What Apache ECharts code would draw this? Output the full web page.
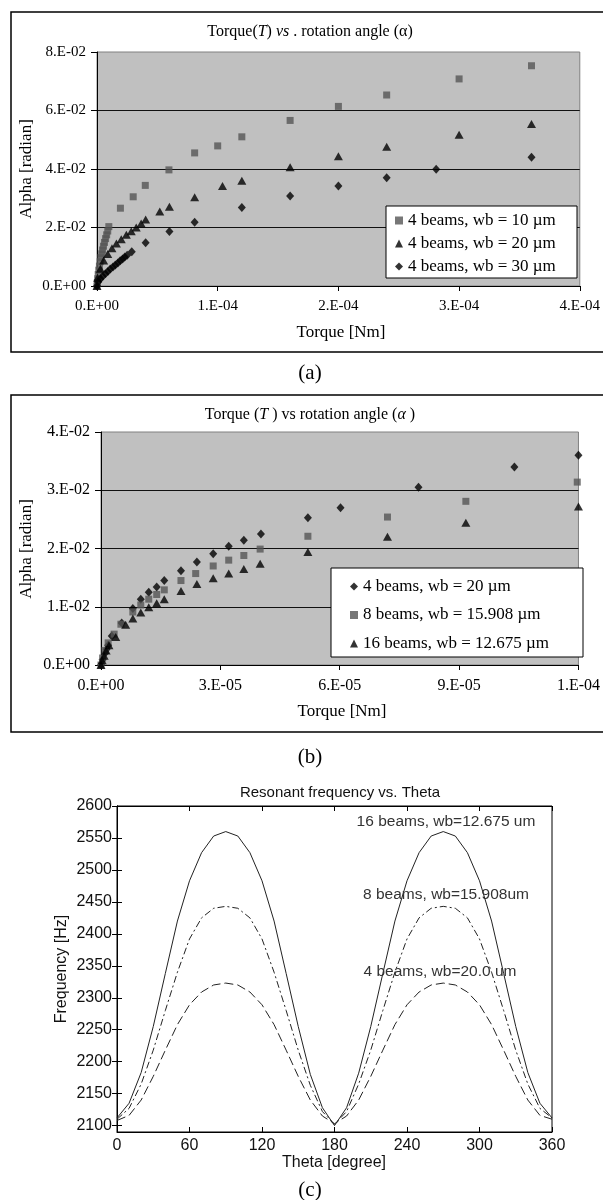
<!DOCTYPE html>
<html><head><meta charset="utf-8">
<script src="https://cdn.jsdelivr.net/npm/echarts@6/dist/echarts.min.js"></script>
<style>
html,body{margin:0;padding:0;background:#fff;}
.ch{position:absolute;left:0;top:0;width:603px;height:1200px;}
</style>
</head><body>
<div id="ca" class="ch"></div><div id="cb" class="ch"></div><div id="cc" class="ch"></div>
<script>
// ---------- Panel (a) data ----------
const xTicksA = ['0.E+00','1.E-04','2.E-04','3.E-04','4.E-04'];
const yTicksA = ['0.E+00','2.E-02','4.E-02','6.E-02','8.E-02'];
const namesA = ['4 beams, wb = 10 µm','4 beams, wb = 20 µm','4 beams, wb = 30 µm'];
const wb10A = [[0,0],[0.3e-6,0.0012],[0.6e-6,0.0025],[1.0e-6,0.0039],[1.5e-6,0.0054],[2.0e-6,0.0068],[2.6e-6,0.0083],[3.2e-6,0.0097],[3.9e-6,0.011],[4.6e-6,0.0123],[5.4e-6,0.0136],[6.2e-6,0.0149],[7.1e-6,0.0162],[8.0e-6,0.0175],[8.9e-6,0.0188],[9.8e-6,0.0203],[1.94e-5,0.0266],[3.0e-5,0.0305],[4.0e-5,0.0344],[5.96e-5,0.0397],[8.09e-5,0.0455],[1.0e-4,0.0479],[1.2e-4,0.051],[1.6e-4,0.0566],[2.0e-4,0.0614],[2.4e-4,0.0653],[3.0e-4,0.0708],[3.6e-4,0.0753]];
const wb20A = [[0,0],[0.5e-6,0.0028],[2.8e-6,0.0059],[5.5e-6,0.0087],[8.9e-6,0.0109],[12.4e-6,0.0129],[16.1e-6,0.0145],[20.1e-6,0.016],[24.3e-6,0.0175],[28.4e-6,0.0187],[32.5e-6,0.02],[36.6e-6,0.0214],[40.3e-6,0.0227],[52e-6,0.0255],[60e-6,0.0271],[80.9e-6,0.0303],[104e-6,0.0342],[120e-6,0.036],[160e-6,0.0406],[200e-6,0.0444],[240e-6,0.0476],[300e-6,0.0517],[360e-6,0.0554]];
const wb30A = [[0,0],[1e-6,0.0014],[3e-6,0.0025],[4.8e-6,0.0033],[7e-6,0.0042],[9e-6,0.005],[11e-6,0.0058],[13.2e-6,0.0065],[15.2e-6,0.0072],[17.3e-6,0.0079],[19.2e-6,0.0086],[21.2e-6,0.0092],[23e-6,0.0099],[25e-6,0.0105],[28.8e-6,0.0117],[40.3e-6,0.0148],[60e-6,0.0186],[80.9e-6,0.0218],[120e-6,0.0268],[160e-6,0.0308],[200e-6,0.0342],[240e-6,0.037],[281e-6,0.0399],[360e-6,0.044]];

// ---------- Panel (b) data ----------
const xTicksB = ['0.E+00','3.E-05','6.E-05','9.E-05','1.E-04'];
const yTicksB = ['0.E+00','1.E-02','2.E-02','3.E-02','4.E-02'];
const namesB = ['4 beams, wb = 20 µm','8 beams, wb = 15.908 µm','16 beams, wb = 12.675 µm'];
const wb20B = [[0,0],[0.4e-6,0.0009],[1.0e-6,0.002],[1.4e-6,0.0027],[1.8e-6,0.0034],[2.7e-6,0.005],[5.2e-6,0.0072],[8.0e-6,0.0097],[10.0e-6,0.0113],[12.0e-6,0.0125],[14.0e-6,0.0134],[15.9e-6,0.0145],[20.1e-6,0.0162],[24.1e-6,0.0177],[28.2e-6,0.0191],[32.1e-6,0.0204],[35.9e-6,0.0214],[40.2e-6,0.0225],[52e-6,0.0253],[60.2e-6,0.027],[79.8e-6,0.0305],[103.9e-6,0.034],[120e-6,0.036]];
const wb15908B = [[0,0],[0.4e-6,0.0012],[1.0e-6,0.0025],[1.8e-6,0.0038],[3.3e-6,0.0053],[5.0e-6,0.007],[8.0e-6,0.0091],[10.0e-6,0.0103],[12.0e-6,0.0113],[14.0e-6,0.0121],[15.9e-6,0.0129],[20.1e-6,0.0145],[23.8e-6,0.0157],[28.2e-6,0.017],[32.1e-6,0.018],[35.9e-6,0.0188],[40.0e-6,0.0199],[52e-6,0.0221],[72e-6,0.0254],[91.7e-6,0.0281],[119.7e-6,0.0314]];
const wb12675B = [[0,0],[0.3e-6,0.0008],[0.8e-6,0.0016],[1.3e-6,0.0025],[2.0e-6,0.0034],[3.7e-6,0.0048],[6.2e-6,0.0069],[8.0e-6,0.008],[10.0e-6,0.009],[12.0e-6,0.0099],[14.0e-6,0.0106],[15.9e-6,0.0113],[20.1e-6,0.0127],[24.1e-6,0.0139],[28.2e-6,0.0149],[32.1e-6,0.0157],[35.9e-6,0.0165],[40.0e-6,0.0174],[52e-6,0.0194],[72e-6,0.022],[91.7e-6,0.0244],[120e-6,0.0272]];

// ---------- Panel (c) data ----------
const thetaDeg = [0,10,20,30,40,50,60,70,80,90,100,110,120,130,140,150,160,170,180,190,200,210,220,230,240,250,260,270,280,290,300,310,320,330,340,350,360];
const freq16 = [2112,2135,2183,2255,2338,2420,2483,2527,2553,2560,2553,2527,2483,2420,2338,2255,2180,2128,2100,2128,2182,2255,2338,2420,2483,2527,2553,2560,2553,2527,2483,2420,2338,2255,2183,2135,2112];
const freq8 = [2110,2127,2165,2218,2280,2340,2392,2425,2440,2443,2440,2425,2392,2340,2280,2218,2163,2122,2102,2122,2165,2218,2280,2340,2392,2425,2440,2443,2440,2425,2392,2340,2280,2218,2165,2127,2112];
const freq4 = [2108,2116,2140,2177,2218,2258,2289,2309,2320,2323,2320,2309,2289,2258,2218,2177,2140,2115,2103,2115,2140,2177,2218,2258,2289,2309,2320,2323,2320,2309,2289,2258,2218,2177,2140,2116,2110];
const freqTicks = [2100,2150,2200,2250,2300,2350,2400,2450,2500,2550,2600];
const thetaTicks = [0,60,120,180,240,300,360];
const curveNames = ['16 beams, wb=12.675 um','8 beams, wb=15.908um','4 beams, wb=20.0 um'];

// ---------- helpers ----------
const SERIF = "'Liberation Serif','Times New Roman',serif";
const SANS = "'Liberation Sans',Arial,sans-serif";
const zip = (xs, ys) => xs.map((x, i) => [x, ys[i]]);
function txt(x, y, text, size, family, opts) {
  opts = opts || {};
  return {type:'text', x:x, y:y, rotation: opts.rot || 0, z: 20,
    style:{text:text, fontSize:size, fontFamily:family, fill: opts.color || '#000',
      align:'center', verticalAlign:'middle', rich: opts.rich}};
}
function frame(x, y, w, h) {
  return {type:'rect', z: 20, shape:{x:x, y:y, width:w, height:h}, style:{fill:'none', stroke:'#000', lineWidth:1.5}};
}
function excelPanel(cfg) {
  return {
    animation:false,
    grid:{left:cfg.grid[0], top:cfg.grid[1], width:cfg.grid[2], height:cfg.grid[3], show:true,
      backgroundColor:'#c0c0c0', borderColor:'#808080', borderWidth:1},
    xAxis:{type:'value', min:0, max:cfg.xMax, interval:cfg.xStep,
      axisLine:{show:true, lineStyle:{color:'#000', width:1}},
      axisTick:{show:true, length:5, lineStyle:{color:'#000'}},
      axisLabel:{margin:cfg.xMargin, fontFamily:SERIF, fontSize:cfg.fs, color:'#000',
        formatter:(v)=>cfg.xTicks[Math.round(v/cfg.xStep)]},
      splitLine:{show:false}},
    yAxis:{type:'value', min:0, max:cfg.yMax, interval:cfg.yStep,
      axisLine:{show:true, lineStyle:{color:'#000', width:1}},
      axisTick:{show:true, length:6, lineStyle:{color:'#000'}},
      axisLabel:{margin:cfg.yMargin, fontFamily:SERIF, fontSize:cfg.fs, color:'#000',
        formatter:(v)=>cfg.yTicks[Math.round(v/cfg.yStep)]},
      splitLine:{show:true, showMaxLine:false, showMinLine:false, lineStyle:{color:'#111', width:1}}},
    legend:{left:cfg.legend[0], top:cfg.legend[1], orient:'vertical', padding:0,
      itemWidth:8, itemHeight:8, itemGap:cfg.legend[2], selectedMode:false,
      textStyle:{fontFamily:SERIF, fontSize:17, color:'#000', lineHeight:17},
      data:cfg.names},
    graphic:{elements:cfg.graphics},
    series:cfg.series
  };
}
const sym = {
  square:{symbol:'rect', symbolSize:7, itemStyle:{color:'#555555'}},
  tri:{symbol:'triangle', symbolSize:[9,8], itemStyle:{color:'#000'}},
  dia:{symbol:'diamond', symbolSize:[8,9], itemStyle:{color:'#000'}}
};
function sc(name, data, s) { return Object.assign({type:'scatter', name:name, data:data, z:3}, s); }

// ---------- chart (a) ----------
const ca = echarts.init(document.getElementById('ca'), null, {width:603, height:1200});
ca.setOption(excelPanel({
  grid:[97,52,489,234], xMax:4e-4, xStep:1e-4, yMax:0.08, yStep:0.02,
  xTicks:xTicksA, yTicks:yTicksA, fs:15, xMargin:13, yMargin:11,
  legend:[395,212,6], names:namesA,
  series:[sc(namesA[0], wb10A, sym.square), sc(namesA[1], wb20A, sym.tri), sc(namesA[2], wb30A, sym.dia)],
  graphics:[
    frame(11,12,640,340),
    {type:'rect', z:3, shape:{x:386,y:206,width:191,height:72}, style:{fill:'#fff', stroke:'#000', lineWidth:1}},
    txt(310,32,'{n|Torque(}{i|T}{n|) }{i|vs}{n| . rotation angle (α)}',16,SERIF,{rich:{
      n:{fontFamily:SERIF,fontSize:16,fill:'#000'}, i:{fontFamily:SERIF,fontSize:16,fontStyle:'italic',fill:'#000'}}}),
    txt(27,169,'Alpha [radian]',17,SERIF,{rot:Math.PI/2}),
    txt(341,333,'Torque [Nm]',17,SERIF),
    txt(310,373,'(a)',21,SERIF)
  ]
}));

// ---------- chart (b) ----------
const cb = echarts.init(document.getElementById('cb'), null, {width:603, height:1200});
cb.setOption(excelPanel({
  grid:[101,432,482,233], xMax:1.2e-4, xStep:3e-5, yMax:0.04, yStep:0.01,
  xTicks:xTicksB, yTicks:yTicksB, fs:16, xMargin:13, yMargin:11,
  legend:[350,578,11.5], names:namesB,
  series:[sc(namesB[0], wb20B, sym.dia), sc(namesB[1], wb15908B, sym.square), sc(namesB[2], wb12675B, sym.tri)],
  graphics:[
    frame(11,395,640,337),
    {type:'rect', z:3, shape:{x:331,y:568,width:252,height:89}, style:{fill:'#fff', stroke:'#000', lineWidth:1}},
    txt(310,415,'{n|Torque (}{i|T}{n| ) vs rotation angle (}{i|α}{n| )}',16,SERIF,{rich:{
      n:{fontFamily:SERIF,fontSize:16,fill:'#000'}, i:{fontFamily:SERIF,fontSize:16,fontStyle:'italic',fill:'#000'}}}),
    txt(27,549,'Alpha [radian]',17,SERIF,{rot:Math.PI/2}),
    txt(342,712,'Torque [Nm]',17,SERIF),
    txt(310,757,'(b)',21,SERIF)
  ]
}));

// ---------- chart (c) ----------
const cc = echarts.init(document.getElementById('cc'), null, {width:603, height:1200});
const tickStyle = {show:true, inside:true, length:5, lineStyle:{color:'#000'}};
const lineCol = '#222';
cc.setOption({
  animation:false,
  grid:{left:117, top:806, width:435, height:326, show:true, backgroundColor:'#fff', borderColor:'#000', borderWidth:1},
  xAxis:[
    {type:'value', min:0, max:360, interval:60, position:'bottom',
     axisLine:{show:true, lineStyle:{color:'#000'}}, axisTick:tickStyle,
     axisLabel:{margin:6, fontFamily:SANS, fontSize:16, color:'#111', formatter:(v)=>String(v)}, splitLine:{show:false}},
    {type:'value', min:0, max:360, interval:60, position:'top',
     axisLine:{show:true, lineStyle:{color:'#000'}}, axisTick:tickStyle,
     axisLabel:{show:false}, splitLine:{show:false}}
  ],
  yAxis:[
    {type:'value', min:2090, max:2600, position:'left',
     axisLine:{show:true, lineStyle:{color:'#000'}}, axisTick:Object.assign({customValues:freqTicks}, tickStyle),
     axisLabel:{margin:5, fontFamily:SANS, fontSize:16, color:'#111', customValues:freqTicks, formatter:(v)=>String(v)}, splitLine:{show:false}},
    {type:'value', min:2090, max:2600, position:'right',
     axisLine:{show:true, lineStyle:{color:'#000'}}, axisTick:Object.assign({customValues:freqTicks}, tickStyle),
     axisLabel:{show:false}, splitLine:{show:false}}
  ],
  series:[
    {type:'line', name:curveNames[0], data:zip(thetaDeg,freq16), showSymbol:false, symbol:'none',
     lineStyle:{color:lineCol, width:1, type:'solid'}},
    {type:'line', name:curveNames[1], data:zip(thetaDeg,freq8), showSymbol:false, symbol:'none',
     lineStyle:{color:lineCol, width:1, type:[7,3,2,3]}},
    {type:'line', name:curveNames[2], data:zip(thetaDeg,freq4), showSymbol:false, symbol:'none',
     lineStyle:{color:lineCol, width:1, type:[9,4]}}
  ],
  graphic:{elements:[
    txt(340,793,'Resonant frequency vs. Theta',15,SANS,{color:'#111'}),
    txt(446,822,curveNames[0],15.5,SANS,{color:'#333'}),
    txt(446,895,curveNames[1],15.5,SANS,{color:'#333'}),
    txt(440,972,curveNames[2],15.5,SANS,{color:'#333'}),
    txt(62,969,'Frequency [Hz]',16,SANS,{rot:Math.PI/2, color:'#111'}),
    txt(334,1163,'Theta [degree]',16,SANS,{color:'#111'}),
    txt(310,1190,'(c)',21,SERIF)
  ]}
});
</script>
</body></html>
